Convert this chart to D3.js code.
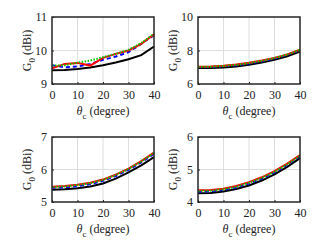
<!DOCTYPE html>
<html>
<head>
<meta charset="utf-8">
<script src="https://cdn.jsdelivr.net/npm/d3@7"></script>
<style>
  body { margin: 0; background: #fff; }
  svg text { font-family: "Liberation Serif", "Times New Roman", "DejaVu Serif", serif !important; fill: #222; }
</style>
</head>
<body>
<div id="chart"></div>
<script>
// angle samples (degree)
const theta = [0, 5, 10, 15, 20, 25, 30, 35, 40];

// panel (a)
const aBlack = [9.41, 9.42, 9.45, 9.49, 9.56, 9.64, 9.74, 9.86, 10.12];
const aBlue  = [9.56, 9.5, 9.52, 9.6, 9.72, 9.82, 9.95, 10.2, 10.46];
const aRed   = [9.47, 9.6, 9.63, 9.55, 9.78, 9.9, 10.0, 10.2, 10.48];
const aGreen = [9.55, 9.56, 9.64, 9.7, 9.8, 9.9, 10.02, 10.22, 10.5];
// panel (b)
const bBlack = [6.95, 6.95, 6.98, 7.05, 7.15, 7.28, 7.45, 7.66, 7.93];
const bBlue  = [7.0, 7.01, 7.06, 7.12, 7.22, 7.35, 7.52, 7.74, 8.02];
const bRed   = [7.03, 7.04, 7.09, 7.16, 7.27, 7.4, 7.56, 7.77, 8.05];
const bGreen = [7.02, 7.03, 7.08, 7.14, 7.25, 7.38, 7.55, 7.76, 8.04];
// panel (c)
const cBlack = [5.38, 5.39, 5.42, 5.48, 5.57, 5.72, 5.91, 6.13, 6.38];
const cBlue  = [5.44, 5.45, 5.49, 5.55, 5.65, 5.8, 5.99, 6.22, 6.48];
const cRed   = [5.47, 5.49, 5.53, 5.59, 5.69, 5.84, 6.03, 6.26, 6.52];
const cGreen = [5.46, 5.48, 5.52, 5.58, 5.68, 5.83, 6.02, 6.25, 6.51];
// panel (d)
const dBlack = [4.27, 4.28, 4.32, 4.4, 4.51, 4.66, 4.85, 5.08, 5.35];
const dBlue  = [4.32, 4.33, 4.37, 4.45, 4.57, 4.72, 4.91, 5.15, 5.41];
const dRed   = [4.36, 4.37, 4.41, 4.49, 4.61, 4.76, 4.95, 5.18, 5.44];
const dGreen = [4.34, 4.35, 4.39, 4.47, 4.59, 4.74, 4.93, 5.16, 5.42];

const xTicks = [0, 10, 20, 30, 40];
const panels = [
  { x: 52, y: 17, h: 67, yDom: [9, 11], yTicks: [9, 10, 11], s: [aBlack, aBlue, aRed, aGreen] },
  { x: 198, y: 17, h: 67, yDom: [6, 10], yTicks: [6, 8, 10], s: [bBlack, bBlue, bRed, bGreen] },
  { x: 52, y: 137, h: 65, yDom: [5, 7], yTicks: [5, 6, 7], s: [cBlack, cBlue, cRed, cGreen] },
  { x: 198, y: 137, h: 65, yDom: [4, 6], yTicks: [4, 5, 6], s: [dBlack, dBlue, dRed, dGreen] }
];
const styles = [
  { color: "#000000", dash: null },
  { color: "#0000ff", dash: "4,3" },
  { color: "#ff0000", dash: null },
  { color: "#00cc00", dash: "1.5,1.5" }
];

const W = 332, H = 249, pw = 102;
const svg = d3.select("#chart").append("svg").attr("width", W).attr("height", H)
  .attr("font-family", "Liberation Serif");

panels.forEach(function(p) {
  const g = svg.append("g").attr("transform", "translate(" + p.x + "," + p.y + ")");
  const x = d3.scaleLinear().domain([0, 40]).range([0, pw]);
  const y = d3.scaleLinear().domain(p.yDom).range([p.h, 0]);

  // grid
  g.selectAll(".gx").data(xTicks.slice(1, -1)).enter().append("line")
    .attr("x1", d => x(d)).attr("x2", d => x(d)).attr("y1", 0).attr("y2", p.h)
    .attr("stroke", "#dedede").attr("stroke-width", 1);
  g.selectAll(".gy").data(p.yTicks.slice(1, -1)).enter().append("line")
    .attr("y1", d => y(d)).attr("y2", d => y(d)).attr("x1", 0).attr("x2", pw)
    .attr("stroke", "#dedede").attr("stroke-width", 1);

  // curves
  const line = d3.line().x((d, i) => x(theta[i])).y(d => y(d));
  p.s.forEach(function(vals, k) {
    g.append("path").datum(vals).attr("d", line)
      .attr("fill", "none").attr("stroke", styles[k].color)
      .attr("stroke-width", 2)
      .attr("stroke-dasharray", styles[k].dash);
  });

  // axes
  const xa = g.append("g").attr("transform", "translate(0," + p.h + ")")
    .call(d3.axisBottom(x).tickValues(xTicks).tickFormat(d3.format("d"))
      .tickSizeInner(-2).tickSizeOuter(0).tickPadding(6));
  const ya = g.append("g")
    .call(d3.axisLeft(y).tickValues(p.yTicks).tickFormat(d3.format("d"))
      .tickSizeInner(-2).tickSizeOuter(0).tickPadding(5));
  [xa, ya].forEach(a => {
    a.attr("font-family", null);
    a.select(".domain").remove();
    a.selectAll("line").attr("stroke", "#222");
    a.selectAll("text").style("font-size", "12px").attr("fill", "#222");
  });
  g.append("rect").attr("width", pw).attr("height", p.h)
    .attr("fill", "none").attr("stroke", "#262626").attr("stroke-width", 1.5);

  // x label
  const xl = g.append("text").attr("x", pw / 2).attr("y", p.h + 31)
    .attr("text-anchor", "middle").style("font-size", "12px");
  xl.append("tspan").text("θ").style("font-style", "italic");
  xl.append("tspan").text("c").attr("dy", 4).style("font-size", "9px");
  xl.append("tspan").text(" (degree)").attr("dy", -4);

  // y label
  const yl = g.append("text")
    .attr("transform", "translate(-21," + (p.h / 2) + ") rotate(-90)")
    .attr("text-anchor", "middle").style("font-size", "12px");
  yl.append("tspan").text("G");
  yl.append("tspan").text("0").attr("dy", 4).style("font-size", "9px");
  yl.append("tspan").text(" (dBi)").attr("dy", -4);
});
</script>
</body>
</html>
